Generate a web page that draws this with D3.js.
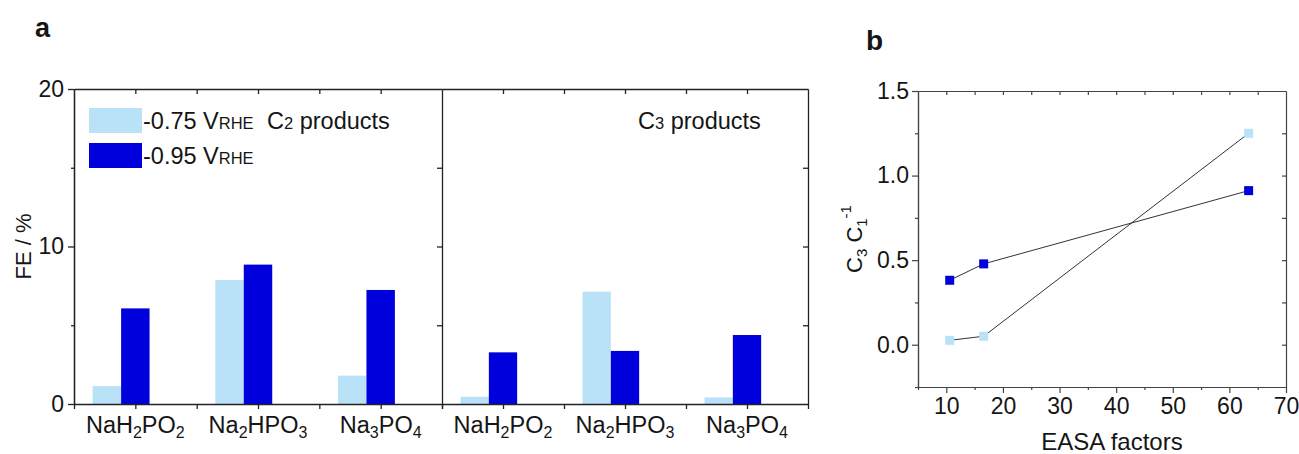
<!DOCTYPE html>
<html>
<head>
<meta charset="utf-8">
<script src="https://cdn.jsdelivr.net/npm/d3@7"></script>
<style>
  body { margin: 0; background: #fff; }
  text { font-family: "Liberation Sans", Arial, sans-serif; fill: #151515; }
  .axis path, .axis line { stroke: #222; stroke-width: 1.3; }
  .axisB path, .axisB line { stroke: #444; stroke-width: 1.2; }
</style>
</head>
<body>
<svg id="chart" width="1299" height="454"></svg>
<script>
// ---- data ----
const categories = ['NaH2PO2', 'Na2HPO3', 'Na3PO4'];
const c2Low  = [1.14, 7.87, 1.80];	// C2 products, -0.75 V
const c2High = [6.07, 8.85, 7.24];	// C2 products, -0.95 V
const c3Low  = [0.46, 7.13, 0.42];	// C3 products, -0.75 V
const c3High = [3.28, 3.37, 4.38];	// C3 products, -0.95 V
const feTicks = [0, 10, 20];

const easa = [10.6, 16.6, 63.4];			// EASA factors
const ratioLow  = [0.026, 0.05, 1.25];	// C3/C1, -0.75 V
const ratioHigh = [0.381, 0.478, 0.911];	// C3/C1, -0.95 V
const easaTicks = [10, 20, 30, 40, 50, 60, 70];
const ratioTicks = [0.0, 0.5, 1.0, 1.5];

const lightBlue = '#b9e2f8',
			darkBlue = '#0000dd';

const svg = d3.select('#chart');

// write a formula with digits as subscripts
function chem(sel, str, size, subSize, shift) {
	const parts = str.match(/\d+|\D+/g);
	let off = 0;
	parts.forEach(p => {
		const isNum = /\d/.test(p);
		const target = isNum ? shift : 0;
		sel.append('tspan')
			.attr('dy', target - off)
			.style('font-size', (isNum ? subSize : size) + 'px')
			.text(p);
		off = target;
	});
}

// ---- panel a ----
const yA = d3.scaleLinear().domain([0, 20]).range([404, 89]);
const xL = d3.scaleLinear().domain([0.5, 3.5]).range([74, 442]);
const xR = d3.scaleLinear().domain([0.5, 3.5]).range([442, 808]);
const bw = 0.232;	// bar width in category units
const halfSteps = [0.5, 1, 1.5, 2, 2.5, 3, 3.5];

function barPanel(x, low, high) {
	const g = svg.append('g');
	g.selectAll('.low').data(low).enter().append('rect')
		.attr('x', (d, i) => x(i + 1 - 1.5 * bw))
		.attr('width', (d, i) => x(i + 1 - 0.5 * bw) - x(i + 1 - 1.5 * bw))
		.attr('y', d => yA(d))
		.attr('height', d => yA(0) - yA(d))
		.attr('fill', lightBlue);
	g.selectAll('.high').data(high).enter().append('rect')
		.attr('x', (d, i) => x(i + 1 - 0.5 * bw))
		.attr('width', (d, i) => x(i + 1 + 0.5 * bw) - x(i + 1 - 0.5 * bw))
		.attr('y', d => yA(d))
		.attr('height', d => yA(0) - yA(d))
		.attr('fill', darkBlue);

	// bottom & top axes
	g.append('g').attr('class', 'axis').attr('transform', `translate(0,${yA(0)})`)
		.call(d3.axisBottom(x).tickValues(halfSteps).tickSize(5).tickSizeOuter(0).tickFormat(''));
	g.append('g').attr('class', 'axis').attr('transform', `translate(0,${yA(20)})`)
		.call(d3.axisBottom(x).tickValues(halfSteps.slice(1, -1)).tickSize(5).tickSizeOuter(0).tickFormat(''));

	// category labels
	categories.forEach((c, i) => {
		const t = g.append('text')
			.attr('x', x(i + 1)).attr('y', 433)
			.attr('text-anchor', 'middle');
		chem(t, c, 23.5, 16, 5);
	});
	return g;
}

barPanel(xL, c2Low, c2High);
barPanel(xR, c3Low, c3High);

// vertical axes of panel a
svg.append('g').attr('class', 'axis').attr('transform', `translate(${xL(0.5)},0)`)
	.call(d3.axisLeft(yA).tickValues(feTicks).tickSize(6).tickSizeOuter(0).tickPadding(4))
	.selectAll('text').style('font-size', '23px');
svg.append('g').attr('class', 'axis').attr('transform', `translate(${xL(0.5)},0)`)
	.call(d3.axisLeft(yA).tickValues([5, 15]).tickSize(3).tickSizeOuter(0).tickFormat(''));
svg.append('g').attr('class', 'axis').attr('transform', `translate(${xR(0.5)},0)`)
	.call(d3.axisLeft(yA).tickValues([5, 10, 15]).tickSize(5).tickSizeOuter(0).tickFormat(''));
svg.append('g').attr('class', 'axis').attr('transform', `translate(${xR(3.5)},0)`)
	.call(d3.axisLeft(yA).tickValues([5, 10, 15]).tickSize(5).tickSizeOuter(0).tickFormat(''));

svg.append('text')
	.attr('transform', `translate(31,${(yA(0) + yA(20)) / 2}) rotate(-90)`)
	.attr('text-anchor', 'middle')
	.style('font-size', '22px')
	.text('FE / %');

// legend
const legend = [{ label: '-0.75 ', color: lightBlue }, { label: '-0.95 ', color: darkBlue }];
legend.forEach((d, i) => {
	svg.append('rect')
		.attr('x', 89).attr('y', 108 + i * 35)
		.attr('width', 53).attr('height', 25)
		.attr('fill', d.color);
	const t = svg.append('text').attr('x', 143).attr('y', 129 + i * 35).style('font-size', '23.5px');
	t.append('tspan').text(d.label + 'V');
	t.append('tspan').style('font-size', '16.5px').text('RHE');
});
function productLabel(x, n) {
	const t = svg.append('text').attr('x', x).attr('y', 129).style('font-size', '23.5px');
	t.append('tspan').text('C');
	t.append('tspan').style('font-size', '16.5px').text(n);
	t.append('tspan').text(' products');
}
productLabel(267, '2');
productLabel(638, '3');

svg.append('text').attr('x', 35).attr('y', 37)
	.style('font-size', '27px').style('font-weight', 'bold').text('a');

// ---- panel b ----
const xB = d3.scaleLinear().domain([5, 70]).range([918, 1286]);
const yB = d3.scaleLinear().domain([-0.25, 1.5]).range([387, 91]);

const gb = svg.append('g');
gb.append('g').attr('class', 'axisB').attr('transform', `translate(0,${yB(-0.25)})`)
	.call(d3.axisBottom(xB).tickValues(easaTicks).tickSize(6).tickSizeOuter(0).tickPadding(5))
	.selectAll('text').style('font-size', '23px');
gb.append('g').attr('class', 'axisB').attr('transform', `translate(0,${yB(-0.25)})`)
	.call(d3.axisBottom(xB).tickValues(d3.range(5, 70, 10)).tickSize(3).tickSizeOuter(0).tickFormat(''));
gb.append('g').attr('class', 'axisB').attr('transform', `translate(0,${yB(1.5)})`)
	.call(d3.axisBottom(xB).tickValues(d3.range(10, 70, 5)).tickSize(4).tickSizeOuter(0).tickFormat(''));
gb.append('g').attr('class', 'axisB').attr('transform', `translate(${xB(5)},0)`)
	.call(d3.axisLeft(yB).tickValues(ratioTicks).tickSize(6).tickSizeOuter(0).tickPadding(3).tickFormat(d3.format('.1f')))
	.selectAll('text').style('font-size', '23px');
gb.append('g').attr('class', 'axisB').attr('transform', `translate(${xB(5)},0)`)
	.call(d3.axisLeft(yB).tickValues([-0.25, 0.25, 0.75, 1.25]).tickSize(3).tickSizeOuter(0).tickFormat(''));
gb.append('g').attr('class', 'axisB').attr('transform', `translate(${xB(70)},0)`)
	.call(d3.axisLeft(yB).tickValues([0, 0.25, 0.5, 0.75, 1.0, 1.25])
		.tickSize(4).tickSizeOuter(0).tickFormat(''));

const line = d3.line().x(d => xB(d[0])).y(d => yB(d[1]));
[[ratioLow, lightBlue], [ratioHigh, darkBlue]].forEach(([vals, color]) => {
	const pts = easa.map((e, i) => [e, vals[i]]);
	gb.append('path').datum(pts)
		.attr('d', line)
		.attr('fill', 'none')
		.attr('stroke', '#333')
		.attr('stroke-width', 1);
	gb.selectAll(null).data(pts).enter().append('rect')
		.attr('x', d => xB(d[0]) - 4.5)
		.attr('y', d => yB(d[1]) - 4.5)
		.attr('width', 9).attr('height', 9)
		.attr('fill', color);
});

// axis titles of panel b
const yt = svg.append('text')
	.attr('transform', `translate(862,${(yB(-0.25) + yB(1.5)) / 2}) rotate(-90)`)
	.attr('text-anchor', 'middle')
	.style('font-size', '22px');
yt.append('tspan').text('C');
yt.append('tspan').attr('dy', 5).style('font-size', '15px').text('3');
yt.append('tspan').attr('dy', -5).text(' C');
yt.append('tspan').attr('dy', 5).style('font-size', '15px').text('1');
yt.append('tspan').attr('dy', -16).style('font-size', '15px').text('-1');

svg.append('text')
	.attr('x', 1112).attr('y', 450)
	.attr('text-anchor', 'middle')
	.style('font-size', '24px')
	.text('EASA factors');

svg.append('text').attr('x', 866).attr('y', 50)
	.style('font-size', '28px').style('font-weight', 'bold').text('b');
</script>
</body>
</html>
